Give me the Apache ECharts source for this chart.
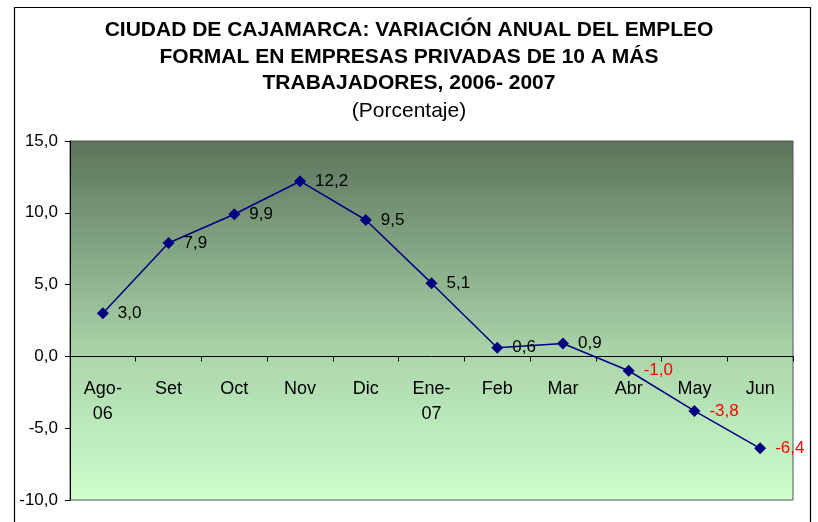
<!DOCTYPE html>
<html><head><meta charset="utf-8">
<script src="https://cdn.jsdelivr.net/npm/echarts@6/dist/echarts.min.js"></script>
<style>html,body{margin:0;padding:0;background:#fff}#c{width:818px;height:522px}</style>
</head><body><div id="c"></div>
<script>
const categories = ['Ago-\n06','Set','Oct','Nov','Dic','Ene-\n07','Feb','Mar','Abr','May','Jun'];
const values = [3.0, 7.9, 9.9, 12.2, 9.5, 5.1, 0.6, 0.9, -1.0, -3.8, -6.4];
const yTicks = {min: -10, max: 15, interval: 5};
const titleLines = ['CIUDAD DE CAJAMARCA: VARIACIÓN ANUAL DEL EMPLEO','FORMAL EN EMPRESAS PRIVADAS DE 10 A MÁS','TRABAJADORES, 2006- 2007'];
const subtitle = '(Porcentaje)';

const FF = 'Liberation Sans, Arial, sans-serif';
const fmt = v => v.toFixed(1).replace('.', ',');
const GRID = {left: 70, right: 25, top: 141, bottom: 22};
const plotH = 522 - GRID.top - GRID.bottom;
const zeroOffset = -(0 - yTicks.min) / (yTicks.max - yTicks.min) * plotH;

const chart = echarts.init(document.getElementById('c'), null, {renderer: 'canvas'});
chart.setOption({
  animation: false,
  backgroundColor: '#fff',
  textStyle: {fontFamily: FF},
  title: [{
    text: titleLines.join('\n'), left: 'center', top: 12,
    textStyle: {fontSize: 21, fontWeight: 'bold', color: '#000', lineHeight: 26.5, fontFamily: FF, align: 'center'},
  },{
    text: subtitle, left: 'center', top: 94,
    textStyle: {fontSize: 21, fontWeight: 'normal', color: '#000', lineHeight: 24, fontFamily: FF}
  }],
  graphic: [{
    type: 'rect', left: 12, top: 5, z: -1, silent: true,
    shape: {x: 0, y: 0, width: 796, height: 540},
    style: {fill: 'none', stroke: '#000', lineWidth: 1.2}
  }],
  grid: Object.assign({}, GRID, {
    show: true, containLabel: false, outerBoundsMode: 'none',
    borderColor: '#555', borderWidth: 1,
    backgroundColor: new echarts.graphic.LinearGradient(0, 0, 0, 1, [
      {offset: 0, color: '#5b745b'},
      {offset: 0.6, color: '#abd6ab'},
      {offset: 1, color: '#ccffcc'}
    ])
  }),
  xAxis: {
    type: 'category', data: categories, boundaryGap: true,
    position: 'bottom', offset: zeroOffset,
    axisLine: {onZero: false, lineStyle: {color: '#000', width: 1}},
    axisTick: {show: true, alignWithLabel: false, inside: false, length: 5, lineStyle: {color: '#000'}},
    axisLabel: {margin: 20, fontSize: 18, color: '#000', lineHeight: 25, interval: 0, hideOverlap: false, fontFamily: FF},
    splitLine: {show: false}
  },
  yAxis: {
    type: 'value', min: yTicks.min, max: yTicks.max, interval: yTicks.interval,
    axisLine: {show: true, lineStyle: {color: '#000'}},
    axisTick: {show: true, length: 5, lineStyle: {color: '#000'}},
    axisLabel: {margin: 12, fontSize: 17, color: '#000', formatter: v => fmt(v), fontFamily: FF},
    splitLine: {show: false}
  },
  series: [{
    type: 'line',
    symbol: 'diamond', symbolSize: 12,
    lineStyle: {color: '#000080', width: 1.5},
    itemStyle: {color: '#000080'},
    label: {
      show: true, position: 'right', distance: 9, fontSize: 17,
      fontFamily: FF,
      formatter: p => fmt(p.value)
    },
    data: values.map(v => ({value: v, label: {color: v < 0 ? '#ff0000' : '#000'}}))
  }]
});
</script></body></html>
